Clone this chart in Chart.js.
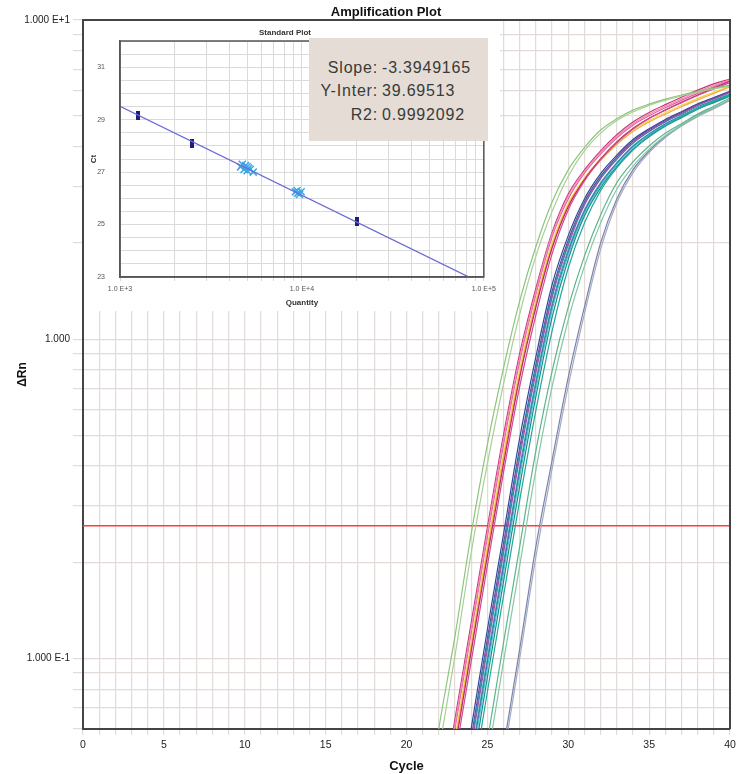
<!DOCTYPE html>
<html>
<head>
<meta charset="utf-8">
<title>Amplification Plot</title>
<script src="https://cdn.jsdelivr.net/npm/chart.js@4.4.1/dist/chart.umd.min.js"></script>
<style>
  html, body { margin: 0; padding: 0; background: #fff; }
  #wrap { position: relative; width: 746px; height: 774px; }
  #main { position: absolute; left: 0; top: 0; }
  #inset { position: absolute; left: 84px; top: 21px; background: #fff; }
  #stats { position: absolute; left: 309px; top: 38px; width: 179px; height: 103px; background: #e5ddd5;
           font: 16px "Liberation Sans", Arial, sans-serif; color: #3a3a3a; letter-spacing: 0.8px; }
  #stats .row { position: absolute; left: 0; width: 179px; height: 18px; line-height: 18px; }
  #stats .k { position: absolute; right: 110px; white-space: nowrap; }
  #stats .v { position: absolute; left: 73px; white-space: nowrap; }
</style>
</head>
<body>
<div id="wrap">
  <canvas id="main" width="746" height="774"></canvas>
  <canvas id="inset" width="416" height="290"></canvas>
  <div id="stats">
    <div class="row" style="top:21px"><span class="k">Slope:</span><span class="v">-3.3949165</span></div>
    <div class="row" style="top:44px"><span class="k">Y-Inter:</span><span class="v">39.69513</span></div>
    <div class="row" style="top:68px"><span class="k">R2:</span><span class="v">0.9992092</span></div>
  </div>
</div>
<script>
// ── amplification curves: ΔRn per cycle (cycles 21..40) ──
const cycles = [21,22,23,24,25,26,27,28,29,30,31,32,33,34,35,36,37,38,39,40];

const greenA   = [0.0282,0.0603,0.1175,0.2455,0.468,0.813,1.318,1.95,2.69,3.39,3.98,4.52,4.90,5.22,5.45,5.65,5.82,5.98,6.12,6.25];
const greenB   = [0.024,0.051,0.102,0.214,0.407,0.724,1.20,1.82,2.51,3.24,3.89,4.42,4.84,5.15,5.40,5.60,5.78,5.94,6.08,6.20];

const magentaA = [0.0162,0.0324,0.0646,0.129,0.257,0.501,0.902,1.445,2.16,2.85,3.39,3.89,4.37,4.79,5.13,5.43,5.73,6.03,6.31,6.53];
const pinkA    = [0.0151,0.0302,0.0603,0.120,0.240,0.468,0.851,1.38,2.09,2.75,3.31,3.80,4.27,4.68,5.01,5.31,5.60,5.89,6.17,6.46];
const roseA    = [0.0157,0.0313,0.0624,0.124,0.248,0.484,0.875,1.41,2.13,2.81,3.35,3.85,4.32,4.73,5.07,5.37,5.66,5.96,6.24,6.49];
const yellowA  = [0.0141,0.0282,0.0562,0.112,0.224,0.437,0.804,1.32,2.00,2.66,3.20,3.67,4.12,4.52,4.84,5.13,5.40,5.68,5.94,6.21];
const orangeA  = [0.0136,0.0272,0.0543,0.108,0.216,0.422,0.776,1.29,1.95,2.63,3.16,3.63,4.07,4.47,4.79,5.07,5.35,5.62,5.89,6.17];
const magentaB = [0.0132,0.0263,0.0525,0.105,0.209,0.407,0.759,1.26,1.93,2.60,3.16,3.67,4.15,4.57,4.92,5.22,5.52,5.82,6.12,6.43];
const hotPinkA = [0.0123,0.0245,0.049,0.0977,0.195,0.383,0.711,1.19,1.85,2.54,3.13,3.65,4.12,4.55,4.91,5.22,5.51,5.80,6.08,6.37];

const blueA    = [0.0074,0.0148,0.0295,0.0603,0.123,0.245,0.490,0.881,1.48,2.11,2.75,3.30,3.77,4.22,4.56,4.88,5.16,5.46,5.71,5.98];
const purpleA  = [0.0069,0.0138,0.0275,0.0562,0.115,0.229,0.457,0.832,1.41,2.04,2.69,3.24,3.72,4.17,4.52,4.84,5.13,5.43,5.69,5.96];
const tealA    = [0.0067,0.0133,0.0266,0.0543,0.111,0.221,0.442,0.809,1.38,2.00,2.65,3.20,3.67,4.11,4.47,4.79,5.07,5.35,5.60,5.86];
const purpleB  = [0.0065,0.0129,0.0257,0.0525,0.107,0.214,0.427,0.785,1.35,1.97,2.63,3.18,3.66,4.12,4.48,4.81,5.09,5.40,5.66,5.93];
const tealB    = [0.0060,0.0120,0.0240,0.0490,0.100,0.200,0.398,0.741,1.29,1.91,2.54,3.09,3.57,4.03,4.40,4.73,5.01,5.30,5.56,5.82];
const indigoA  = [0.0058,0.0116,0.0232,0.0473,0.0966,0.193,0.385,0.719,1.26,1.87,2.51,3.06,3.55,4.01,4.38,4.71,5.00,5.28,5.55,5.81];
const cyanA    = [0.0056,0.0112,0.0224,0.0457,0.0933,0.186,0.372,0.700,1.23,1.84,2.48,3.03,3.52,3.98,4.36,4.69,4.98,5.27,5.53,5.79];
const tealC    = [0.0052,0.0105,0.0209,0.0427,0.0871,0.174,0.347,0.661,1.17,1.78,2.43,2.98,3.47,3.93,4.31,4.65,4.94,5.25,5.51,5.77];
const tealD    = [0.0047,0.0094,0.0188,0.0385,0.0785,0.157,0.313,0.598,1.06,1.67,2.31,2.92,3.44,3.91,4.33,4.66,4.97,5.26,5.55,5.81];

const seaA     = [0.0034,0.0068,0.0135,0.0269,0.055,0.112,0.224,0.447,0.794,1.26,1.82,2.45,3.09,3.59,4.03,4.42,4.73,5.07,5.37,5.69];
const seaB     = [0.0030,0.0059,0.0117,0.0234,0.0479,0.0977,0.195,0.389,0.708,1.15,1.69,2.31,2.95,3.48,3.94,4.34,4.67,5.00,5.31,5.62];

const slateA   = [0.0017,0.0033,0.0066,0.0132,0.0263,0.0525,0.107,0.224,0.417,0.759,1.26,2.00,2.75,3.39,3.89,4.32,4.68,5.01,5.31,5.62];
const slateB   = [0.0015,0.0031,0.0062,0.0123,0.0245,0.0490,0.100,0.208,0.392,0.714,1.20,1.91,2.67,3.32,3.84,4.28,4.65,4.98,5.27,5.60];

const thresholdValue = 0.26;

// axis ticks / labels
const xGridCycles = Array.from({ length: 41 }, (_, i) => i);
const yGridValues = [0.06,0.07,0.08,0.09,0.1,0.2,0.3,0.4,0.5,0.6,0.7,0.8,0.9,1,2,3,4,5,6,7,8,9,10];
const yTickLabels = { 10: '1.000 E+1', 1: '1.000', 0.1: '1.000 E-1' };

// ── standard curve (inset) ──
const stdQuantity = [1250, 2500, 20000];
const stdCt       = [29.17, 28.1, 25.1];
const unkQuantity = [4600, 4800, 4900, 5000, 5100, 5200, 5400, 4700, 5000, 9200, 9500, 9700, 9900, 9400];
const unkCt       = [27.2, 27.1, 27.25, 27.05, 27.15, 27.1, 27.0, 27.3, 27.2, 26.25, 26.2, 26.15, 26.25, 26.3];
const fitQuantity = [1000, 100000];
const fitCt       = [29.51, 22.72];
const insetXGrid  = [1000,2000,3000,4000,5000,6000,7000,8000,9000,10000,20000,30000,40000,50000,60000,70000,80000,90000,100000];
const insetXLabels = { 1000: '1.0 E+3', 10000: '1.0 E+4', 100000: '1.0 E+5' };
const insetYGrid  = [23,23.5,24,24.5,25,25.5,26,26.5,27,27.5,28,28.5,29,29.5,30,30.5,31,31.5,32];
const insetYLabels = [23, 25, 27, 29, 31];

Chart.defaults.font.family = '"Liberation Sans", Arial, sans-serif';

const curves = [
  ['greenA', greenA, '#8cc47c'], ['greenB', greenB, '#a9cf96'],
  ['seaA', seaA, '#5cb48c'], ['seaB', seaB, '#84c8a6'],
  ['slateA', slateA, '#7a82aa'], ['slateB', slateB, '#a4aac4'],
  ['tealD', tealD, '#23a69a'], ['tealC', tealC, '#12908c'], ['cyanA', cyanA, '#48c2cc'], ['indigoA', indigoA, '#4f58b0'],
  ['tealB', tealB, '#2db4b0'], ['purpleB', purpleB, '#9456a6'], ['tealA', tealA, '#17a0a4'],
  ['purpleA', purpleA, '#6c3d98'], ['blueA', blueA, '#2f4aa0'],
  ['hotPinkA', hotPinkA, '#d4488c'], ['magentaB', magentaB, '#b02a6e'], ['orangeA', orangeA, '#f4a84a'],
  ['yellowA', yellowA, '#f2d640'], ['roseA', roseA, '#ec8cb4'], ['pinkA', pinkA, '#e0649c'], ['magentaA', magentaA, '#c8327a']
];

const gridCol = '#e2dbd8';

const mainFrame = {
  id: 'mainFrame',
  afterDraw(chart) {
    const { ctx, chartArea: { left, right, top, bottom } } = chart;
    ctx.save();
    ctx.strokeStyle = '#444';
    ctx.lineWidth = 2;
    ctx.beginPath();
    ctx.moveTo(left, top); ctx.lineTo(right, top); ctx.lineTo(right, bottom);
    ctx.stroke();
    ctx.fillStyle = '#111';
    ctx.font = 'bold 13px "Liberation Sans", Arial, sans-serif';
    ctx.textAlign = 'center';
    ctx.textBaseline = 'middle';
    ctx.fillText('Amplification Plot', 386, 12);
    ctx.restore();
  }
};

const datasets = curves.map(([name, vals, color]) => ({
  label: name,
  data: cycles.map((c, i) => ({ x: c, y: vals[i] })),
  borderColor: color,
  borderWidth: 1.2,
  pointRadius: 0,
  cubicInterpolationMode: 'monotone',
  fill: false
}));
datasets.push({
  label: 'Threshold',
  data: [{ x: 0, y: thresholdValue }, { x: 40, y: thresholdValue }],
  borderColor: '#ff3b3b',
  borderWidth: 1.5,
  pointRadius: 0
});

new Chart(document.getElementById('main'), {
  type: 'line',
  data: { datasets },
  options: {
    responsive: false, animation: false, devicePixelRatio: 1,
    layout: { padding: { top: 20, right: 16, left: 0, bottom: 0 } },
    plugins: { legend: { display: false }, tooltip: { enabled: false }, title: { display: false } },
    scales: {
      x: {
        type: 'linear', min: 0, max: 40,
        afterBuildTicks: s => { s.ticks = xGridCycles.map(v => ({ value: v })); },
        afterFit: s => { s.height = 45; },
        ticks: { autoSkip: false, maxRotation: 0, padding: 4, color: '#222', font: { size: 10.5 },
                 callback: v => (v % 5 === 0 ? String(v) : '') },
        grid: { color: gridCol, lineWidth: 1.2, tickLength: 6 },
        border: { color: '#444', width: 2 },
        title: { display: true, text: 'Cycle', color: '#111', font: { size: 13, weight: 'bold' }, padding: { top: 0, bottom: 0 } }
      },
      y: {
        type: 'logarithmic', min: 0.06, max: 10,
        afterBuildTicks: s => { s.ticks = yGridValues.map(v => ({ value: v })); },
        afterFit: s => { s.width = 83; },
        ticks: { autoSkip: false, padding: 3, color: '#222', font: { size: 10 },
                 callback: v => yTickLabels[v] || '' },
        grid: { color: gridCol, lineWidth: 1.2, tickLength: 10 },
        border: { color: '#444', width: 2 },
        title: { display: true, text: 'ΔRn', color: '#111', font: { size: 12, weight: 'bold' }, padding: { top: 15, bottom: 0 } }
      }
    }
  },
  plugins: [mainFrame]
});

// ── inset: standard plot ──
const stdMark = document.createElement('canvas');
stdMark.width = 4; stdMark.height = 9;
{ const g = stdMark.getContext('2d'); g.fillStyle = '#1e1e78'; g.fillRect(0, 0, 4, 9); }

const insetFrame = {
  id: 'insetFrame',
  beforeDraw(chart) {
    const { ctx, width, height } = chart;
    ctx.save(); ctx.fillStyle = '#fff'; ctx.fillRect(0, 0, width, height); ctx.restore();
  },
  afterDraw(chart) {
    const { ctx, chartArea: { left, right, top, bottom } } = chart;
    ctx.save();
    ctx.strokeStyle = '#555';
    ctx.lineWidth = 1.5;
    ctx.strokeRect(left, top, right - left, bottom - top);
    ctx.restore();
  }
};

new Chart(document.getElementById('inset'), {
  type: 'scatter',
  data: {
    datasets: [
      { type: 'line', data: fitQuantity.map((q, i) => ({ x: q, y: fitCt[i] })),
        borderColor: '#6b6bd6', borderWidth: 1.3, pointRadius: 0 },
      { data: stdQuantity.map((q, i) => ({ x: q, y: stdCt[i] })),
        pointStyle: stdMark, pointRadius: 4 },
      { data: unkQuantity.map((q, i) => ({ x: q, y: unkCt[i] })),
        pointStyle: 'crossRot', pointRadius: 5, borderColor: '#3aa8e4', borderWidth: 1.5, backgroundColor: '#3aa8e4' }
    ]
  },
  options: {
    responsive: false, animation: false, devicePixelRatio: 1,
    layout: { padding: { left: 0, right: 14, top: 0, bottom: 0 } },
    plugins: {
      legend: { display: false }, tooltip: { enabled: false },
      title: { display: true, text: 'Standard Plot', color: '#333', font: { size: 8, weight: 'bold' }, padding: { top: 7, bottom: 3.4 } }
    },
    scales: {
      x: {
        type: 'logarithmic', min: 1000, max: 100000,
        afterBuildTicks: s => { s.ticks = insetXGrid.map(v => ({ value: v })); },
        afterFit: s => { s.height = 34; },
        ticks: { autoSkip: false, maxRotation: 0, padding: 4, color: '#555', font: { size: 7 },
                 callback: v => insetXLabels[v] || '' },
        grid: { color: '#dadada', lineWidth: 1, tickLength: 4 },
        border: { color: '#555', width: 1.5 },
        title: { display: true, text: 'Quantity', color: '#333', font: { size: 8, weight: 'bold' }, padding: { top: 0, bottom: 3 } }
      },
      y: {
        type: 'linear', min: 23, max: 32,
        afterBuildTicks: s => { s.ticks = insetYGrid.map(v => ({ value: v })); },
        afterFit: s => { s.width = 36; },
        ticks: { autoSkip: false, padding: 15, color: '#555', font: { size: 7 },
                 callback: v => (insetYLabels.includes(v) ? String(v) : '') },
        grid: { color: '#dadada', lineWidth: 1, drawTicks: false },
        border: { color: '#555', width: 1.5 },
        title: { display: true, text: 'Ct', color: '#333', font: { size: 8, weight: 'bold' }, padding: { top: 5, bottom: 0 } }
      }
    }
  },
  plugins: [insetFrame]
});
</script>
</body>
</html>
